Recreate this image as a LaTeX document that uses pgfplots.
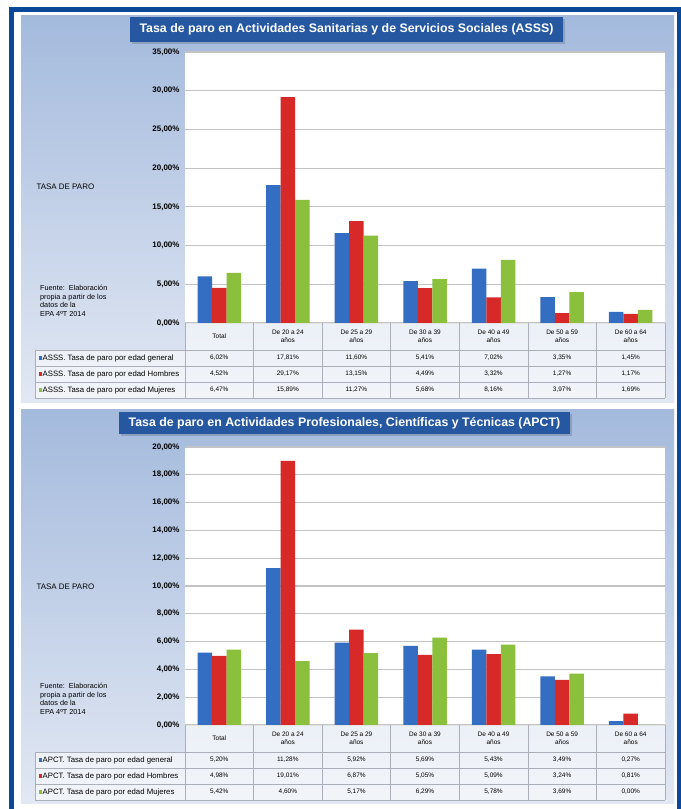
\documentclass[border=0pt]{standalone}
\usepackage{fontspec}
\setmainfont{Liberation Sans}
\usepackage{pgfplots}
\usepackage{pgfplotstable}
\pgfplotsset{compat=1.18}

\definecolor{frameblue}{RGB}{12,72,152}
\definecolor{titleblue}{RGB}{38,88,162}
\definecolor{paneltop}{RGB}{164,186,221}
\definecolor{panelbot}{RGB}{226,232,243}
\definecolor{gridgray}{RGB}{195,195,195}
\definecolor{cellline}{RGB}{170,175,185}
\definecolor{barblue}{RGB}{52,110,195}
\definecolor{barred}{RGB}{215,42,40}
\definecolor{bargreen}{RGB}{138,192,60}

% tasas de paro (%), filas: Total, 20-24, 25-29, 30-39, 40-49, 50-59, 60-64
\pgfplotstableread{
x gen hom muj
0 6.02 4.52 6.47
1 17.81 29.17 15.89
2 11.60 13.15 11.27
3 5.41 4.49 5.68
4 7.02 3.32 8.16
5 3.35 1.27 3.97
6 1.45 1.17 1.69
}\asss

\pgfplotstableread{
x gen hom muj
0 5.20 4.98 5.42
1 11.28 19.01 4.60
2 5.92 6.87 5.17
3 5.69 5.05 6.29
4 5.43 5.09 5.78
5 3.49 3.24 3.69
6 0.27 0.81 0.00
}\apct

\pgfplotsset{
  panel/.style={
    scale only axis, width=480bp, anchor=south west,
    ybar=0pt, bar width=14.5bp,
    xmin=-0.5, xmax=6.5, xtick=\empty,
    ymin=0, ymajorgrids,
    grid style={draw=gridgray, line width=1.2bp},
    axis line style={draw=none}, major tick length=0pt,
    axis background/.style={fill=white},
    /pgf/number format/assume math mode=true,
    yticklabel style={font=\fontsize{8}{9}\selectfont\bfseries, xshift=-2bp},
    yticklabel={\pgfmathprintnumber[fixed,fixed zerofill,precision=2,use comma]{\tick}\%},
    clip=false,
  },
}

\newcommand{\celltxt}{\fontsize{6.5}{7.5}\selectfont}
\newcommand{\pct}[1]{\pgfmathprintnumber[fixed,fixed zerofill,precision=2,use comma,assume math mode=true]{#1}\%}

% #1 top of table (y), #2 data table, #3 prefix
\newcommand{\datatable}[3]{%
  \fill[white, opacity=0.55] (35,#1-27) rectangle (665,#1-75);
  \fill[white, opacity=0.55] (185,#1) rectangle (665,#1-27);
  \foreach \i in {0,...,7} {
    \draw[cellline, line width=0.6bp] (185+\i*68.5714,#1) -- (185+\i*68.5714,#1-75);
  }
  \draw[cellline, line width=0.6bp] (35,#1-27) -- (35,#1-75);
  \foreach \yy in {27,43,59,75} {
    \draw[cellline, line width=0.6bp] (35,#1-\yy) -- (665,#1-\yy);
  }
  \node[font=\celltxt] at (185+34.2857,#1-13.5) {Total};
  \foreach \i/\lab in {1/De 20 a 24,2/De 25 a 29,3/De 30 a 39,4/De 40 a 49,5/De 50 a 59,6/De 60 a 64} {
    \node[font=\celltxt, align=center] at (185+\i*68.5714+34.2857,#1-13.5) {\lab\\años};
  }
  \foreach \c/\col/\lab [count=\k from 0] in {gen/barblue/general,hom/barred/Hombres,muj/bargreen/Mujeres} {
    \fill[\col] (38.5,#1-35-\k*16-1.7) rectangle (41.9,#1-35-\k*16+1.7);
    \node[font=\fontsize{7.8}{8.5}\selectfont, anchor=west, inner sep=0pt] at (42.5,#1-35-\k*16) {#3. Tasa de paro por edad \lab};
    \foreach \r in {0,...,6} {
      \pgfplotstablegetelem{\r}{\c}\of{#2}
      \node[font=\celltxt] at (185+\r*68.5714+34.2857,#1-35-\k*16) {\pct{\pgfplotsretval}};
    }
  }
}

\begin{document}
\begin{tikzpicture}[x=1bp, y=1bp]
\useasboundingbox (0,0) rectangle (681,809);
\fill[white] (0,0) rectangle (681,809);

% marco
\draw[frameblue, line width=5bp] (11,-10) -- (11,799) -- (679.5,799) -- (679.5,-10);

% fondos de los paneles
\shade[top color=paneltop, bottom color=panelbot] (21,406) rectangle (674,793);
\shade[top color=paneltop, bottom color=panelbot] (21,5) rectangle (674,399);

% ---------- panel 1 ----------
\fill[black, opacity=0.15] (132,765) rectangle (565,790);
\fill[titleblue] (130,767) rectangle (563,792);
\node[text=white, font=\fontsize{12.4}{14}\selectfont\bfseries] at (346.5,779.5)
  {Tasa de paro en Actividades Sanitarias y de Servicios Sociales (ASSS)};

\begin{axis}[panel, at={(185bp,486bp)}, height=271bp, ymax=35, ytick={0,5,...,35}]
  \addplot[draw=none, fill=barblue] table[x=x, y=gen] {\asss};
  \addplot[draw=none, fill=barred] table[x=x, y=hom] {\asss};
  \addplot[draw=none, fill=bargreen] table[x=x, y=muj] {\asss};
\end{axis}

\node[font=\fontsize{8}{9}\selectfont, anchor=west] at (33,622) {TASA DE PARO};
\node[font=\fontsize{7.3}{8.6}\selectfont, anchor=north west, align=left, inner sep=0pt] at (40,524)
  {Fuente:\ \ Elaboración\\propia a partir de los\\datos de la\\EPA 4ºT 2014};

\datatable{486}{\asss}{ASSS}

% ---------- panel 2 ----------
\fill[black, opacity=0.15] (121,373) rectangle (572,395);
\fill[titleblue] (119,375) rectangle (570,397);
\node[text=white, font=\fontsize{12.4}{14}\selectfont\bfseries] at (344.5,386)
  {Tasa de paro en Actividades Profesionales, Científicas y Técnicas (APCT)};

\begin{axis}[panel, at={(185bp,84bp)}, height=278bp, ymax=20, ytick={0,2,...,20}]
  \addplot[draw=none, fill=barblue] table[x=x, y=gen] {\apct};
  \addplot[draw=none, fill=barred] table[x=x, y=hom] {\apct};
  \addplot[draw=none, fill=bargreen] table[x=x, y=muj] {\apct};
\end{axis}

\node[font=\fontsize{8}{9}\selectfont, anchor=west] at (33,222) {TASA DE PARO};
\node[font=\fontsize{7.3}{8.6}\selectfont, anchor=north west, align=left, inner sep=0pt] at (40,126)
  {Fuente:\ \ Elaboración\\propia a partir de los\\datos de la\\EPA 4ºT 2014};

\datatable{84}{\apct}{APCT}
\end{tikzpicture}
\end{document}
